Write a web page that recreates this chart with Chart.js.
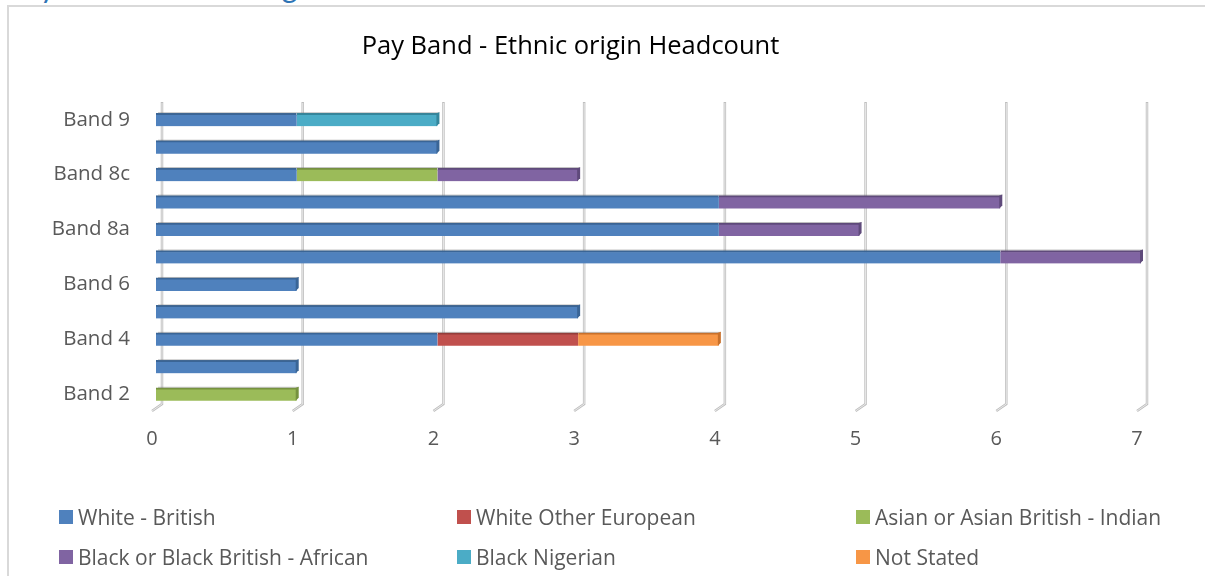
<!DOCTYPE html>
<html>
<head>
<meta charset="utf-8">
<script src="https://cdn.jsdelivr.net/npm/chart.js@4.4.1/dist/chart.umd.min.js"></script>
<style>
  body { margin: 0; background: #ffffff; overflow: hidden; width: 1205px; height: 576px; position: relative; }
  #page-heading { position: absolute; left: 8px; top: -32px; font-family: Lato, sans-serif; font-size: 30px; color: #2e74b5; white-space: nowrap; }
  #frame { position: absolute; left: 7px; top: 5px; width: 1220px; height: 600px; border: 2px solid #d9d9d9; box-sizing: border-box; }
  #chart-wrap { position: absolute; left: 0; top: 0; width: 1205px; height: 480px; }
  #legend { position: absolute; left: 0; top: 0; width: 1205px; height: 576px; pointer-events: none; }
  .legend-item { position: absolute; display: flex; align-items: center; height: 24px; font-family: "Open Sans", sans-serif; font-size: 21px; color: #595959; white-space: nowrap; }
  .legend-item span.box { display: inline-block; width: 14px; height: 14px; margin-right: 5px; }
</style>
</head>
<body>
<div id="page-heading">Pay Band - Ethnic origin</div>
<div id="frame"></div>
<div id="chart-wrap"><canvas id="pay-chart"></canvas></div>
<div id="legend"></div>
<script>
// Categories, top to bottom as drawn
const bands = ["Band 9", "Band 8d", "Band 8c", "Band 8b", "Band 8a", "Band 7", "Band 6", "Band 5", "Band 4", "Band 3", "Band 2"];

// Headcount per ethnic origin (same order as bands)
const whiteBritish      = [1, 2, 1, 4, 4, 6, 1, 3, 2, 1, 0];
const whiteOtherEuro    = [0, 0, 0, 0, 0, 0, 0, 0, 1, 0, 0];
const asianIndian       = [0, 0, 1, 0, 0, 0, 0, 0, 0, 0, 1];
const blackAfrican      = [0, 0, 1, 2, 1, 1, 0, 0, 0, 0, 0];
const blackNigerian     = [1, 0, 0, 0, 0, 0, 0, 0, 0, 0, 0];
const notStated         = [0, 0, 0, 0, 0, 0, 0, 0, 1, 0, 0];

const xTicks = [0, 1, 2, 3, 4, 5, 6, 7];

const seriesList = [
  { label: "White - British", data: whiteBritish, color: "#4f81bd", dark: "#3a6596" },
  { label: "White Other European", data: whiteOtherEuro, color: "#c0504d", dark: "#943d3a" },
  { label: "Asian or Asian British - Indian", data: asianIndian, color: "#9bbb59", dark: "#76923f" },
  { label: "Black or Black British - African", data: blackAfrican, color: "#8064a2", dark: "#5f4a7b" },
  { label: "Black Nigerian", data: blackNigerian, color: "#4bacc6", dark: "#33869c" },
  { label: "Not Stated", data: notStated, color: "#f79646", dark: "#c8702a" }
];

// legend grid: column x, row y (top of 24px line)
const legendCols = [59, 457, 856];
const legendRows = [505, 545];

// Draws the 3D-looking gridlines, offset a little to the right of the values
const gridPlugin = {
  id: "gridLines3d",
  beforeDatasetsDraw(chart) {
    const ctx = chart.ctx;
    const area = chart.chartArea;
    const xScale = chart.scales.x;
    ctx.save();
    xTicks.forEach(v => {
      const x = xScale.getPixelForValue(v) + 6;
      ctx.strokeStyle = "#bfbfbf";
      ctx.lineWidth = 2.5;
      ctx.beginPath();
      ctx.moveTo(x, area.top - 4);
      ctx.lineTo(x, area.bottom - 4);
      ctx.lineTo(x - 10, area.bottom + 3);
      ctx.stroke();
      ctx.strokeStyle = "#f2f2f2";
      ctx.lineWidth = 0.8;
      ctx.beginPath();
      ctx.moveTo(x, area.top - 3);
      ctx.lineTo(x, area.bottom - 4);
      ctx.lineTo(x - 10, area.bottom + 3);
      ctx.stroke();
    });
    ctx.restore();
  }
};

// Shadow line above each row and a dark end cap on the last segment
const barEdgePlugin = {
  id: "barEdges",
  afterDatasetsDraw(chart) {
    const ctx = chart.ctx;
    ctx.save();
    bands.forEach((b, i) => {
      let last = null;
      let first = null;
      chart.data.datasets.forEach((ds, di) => {
        if (ds.data[i] > 0) {
          const el = chart.getDatasetMeta(di).data[i];
          if (!first) first = el;
          last = { el: el, dark: seriesList[di].dark };
        }
      });
      if (!last) return;
      const el = last.el;
      const top = el.y - el.height / 2;
      const bottom = el.y + el.height / 2;
      ctx.strokeStyle = "rgba(120,120,120,0.45)";
      ctx.lineWidth = 1;
      ctx.beginPath();
      ctx.moveTo(first.base + 2, top - 0.5);
      ctx.lineTo(el.x + 2, top - 0.5);
      ctx.stroke();
      ctx.fillStyle = last.dark;
      ctx.beginPath();
      ctx.moveTo(el.x - 1, top);
      ctx.lineTo(el.x + 2, top - 1);
      ctx.lineTo(el.x + 2, bottom - 3);
      ctx.lineTo(el.x - 1, bottom);
      ctx.closePath();
      ctx.fill();
    });
    ctx.restore();
  }
};

const ctx = document.getElementById("pay-chart").getContext("2d");
const payChart = new Chart(ctx, {
  type: "bar",
  data: {
    labels: bands,
    datasets: seriesList.map(s => ({
      label: s.label,
      data: s.data,
      backgroundColor: s.color,
      borderColor: s.dark,
      borderWidth: { top: 2, right: 0, bottom: 0, left: 0 },
      borderSkipped: false,
      barThickness: 13
    }))
  },
  options: {
    indexAxis: "y",
    responsive: true,
    maintainAspectRatio: false,
    animation: false,
    layout: { padding: { top: 12, right: 64, bottom: 12, left: 0 } },
    plugins: {
      legend: { display: false }, // HTML legend below
      tooltip: { enabled: false },
      title: {
        display: true,
        text: "Pay Band - Ethnic origin Headcount",
        color: "#000000",
        font: { family: "'Open Sans'", size: 25.5, weight: "normal" },
        padding: { top: 19, bottom: 44.4 }
      }
    },
    scales: {
      x: {
        stacked: true,
        min: 0,
        max: 7,
        grid: { display: false, drawTicks: false },
        border: { display: false },
        ticks: {
          stepSize: 1,
          color: "#595959",
          font: { family: "'Open Sans'", size: 20 },
          padding: 19,
          labelOffset: -4
        },
        afterFit: scale => { scale.height = 60; }
      },
      y: {
        stacked: true,
        grid: { display: false, drawTicks: false },
        border: { display: false },
        ticks: {
          autoSkip: false,
          color: "#595959",
          font: { family: "'Open Sans'", size: 20.5 },
          padding: 26,
          callback: function (value, index) {
            return index % 2 === 0 ? this.getLabelForValue(value) : "";
          }
        },
        afterFit: scale => { scale.width = 156; }
      }
    }
  },
  plugins: [gridPlugin, barEdgePlugin]
});

// Build the 3-column HTML legend from the datasets
const legendEl = document.getElementById("legend");
payChart.data.datasets.forEach((ds, i) => {
  const item = document.createElement("div");
  item.className = "legend-item";
  item.style.left = legendCols[i % 3] + "px";
  item.style.top = legendRows[Math.floor(i / 3)] + "px";
  item.innerHTML = `<span class="box" style="background:${ds.backgroundColor}"></span>${ds.label}`;
  legendEl.appendChild(item);
});
</script>
</body>
</html>
